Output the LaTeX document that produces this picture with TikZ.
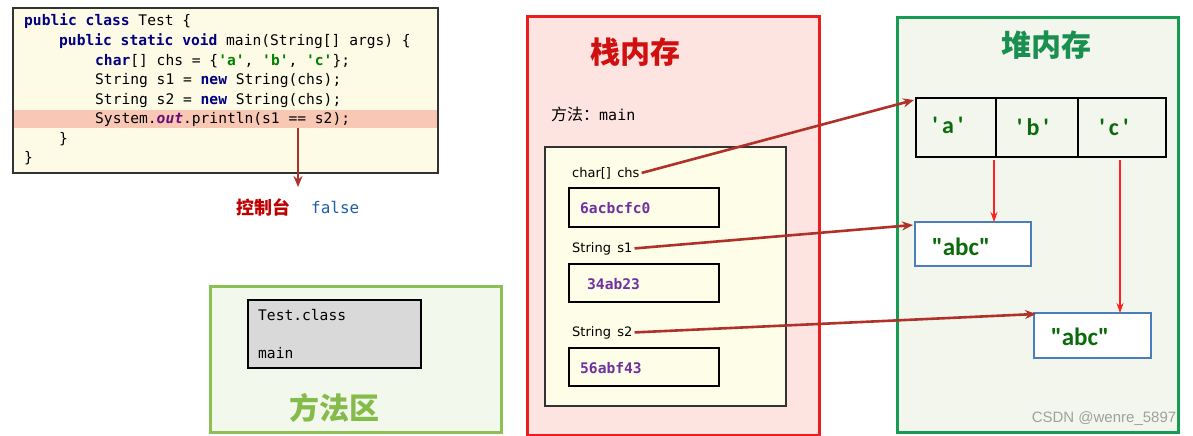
\documentclass[tikz,border=0pt]{standalone}
\usepackage{fontspec}
\setmainfont{DejaVu Sans}
\setsansfont{DejaVu Sans}
\setmonofont{DejaVu Sans Mono}
\newfontfamily\cjk{Noto Sans CJK SC}
\newfontfamily\carl{Carlito}
\newfontfamily\libsans{Liberation Sans}
\usetikzlibrary{arrows.meta}
\definecolor{codebg}{HTML}{FDFBE6}
\definecolor{hlpink}{HTML}{F9C8B4}
\definecolor{kwnavy}{HTML}{000080}
\definecolor{strgreen}{HTML}{008000}
\definecolor{fldpurple}{HTML}{660E7A}
\definecolor{darrow}{HTML}{B0302A}
\definecolor{brightred}{HTML}{FF2020}
\definecolor{ctlred}{HTML}{C00000}
\definecolor{falseblue}{HTML}{1F5FA8}
\definecolor{mgreen}{HTML}{8BC153}
\definecolor{mbg}{HTML}{F3F8EC}
\definecolor{mtitle}{HTML}{85BB4A}
\definecolor{graybox}{HTML}{D9D9D9}
\definecolor{sred}{HTML}{EE1C1C}
\definecolor{sbg}{HTML}{FDE4E1}
\definecolor{stitle}{HTML}{D01010}
\definecolor{innerbg}{HTML}{FEFDE8}
\definecolor{addr}{HTML}{7030A0}
\definecolor{hgreen}{HTML}{169B53}
\definecolor{hbg}{HTML}{F3F6EC}
\definecolor{htitle}{HTML}{1A9050}
\definecolor{valgreen}{HTML}{0B6B0B}
\definecolor{strblue}{HTML}{4A7EBB}
\definecolor{wmgray}{HTML}{A0A0A0}
\newcommand\jkw[1]{\textcolor{kwnavy}{\bfseries #1}}
\newcommand\jstr[1]{\textcolor{strgreen}{\bfseries #1}}
\newcommand\jfld[1]{\textcolor{fldpurple}{\bfseries\itshape #1}}
\newcommand\sq{\symbol{39}}
\newcommand\dq{\symbol{34}}
\begin{document}
\begin{tikzpicture}[x=1pt,y=-1pt,
  box/.style={rectangle,anchor=north west,inner sep=0pt,outer sep=0pt},
  code/.style={anchor=base west,inner sep=0pt,font=\ttfamily\fontsize{14.6}{16}\selectfont},
  mono/.style={anchor=base west,inner sep=0pt,font=\ttfamily\fontsize{14.6}{16}\selectfont},
  lbl/.style={anchor=base west,inner sep=2pt,font=\fontsize{13}{15}\selectfont},
  cellbox/.style={box,draw=black,line width=1.8pt,minimum height=59pt},
  addrbox/.style={box,draw=black,line width=1.8pt,fill=innerbg,minimum width=150pt,minimum height=39pt},
  addrtxt/.style={anchor=base west,inner sep=0pt,text=addr,font=\ttfamily\bfseries\fontsize{14.6}{16}\selectfont},
  strbox/.style={box,draw=strblue,line width=2.2pt,fill=white,minimum width=116pt,minimum height=44pt},
  strtxt/.style={inner sep=0pt,text=valgreen,font=\carl\bfseries\fontsize{25}{27}\selectfont},
  chtxt/.style={inner sep=0pt,text=valgreen,font=\carl\bfseries\fontsize{24}{26}\selectfont},
  title/.style={inner sep=0pt,font=\cjk\bfseries\fontsize{30}{32}\selectfont},
  darr/.style={draw=darrow,line width=2.6pt,-{Stealth[length=11pt,width=9pt]}},
  rarr/.style={draw=brightred,line width=1.8pt,-{Stealth[length=10pt,width=7pt]}}]
\useasboundingbox (0,0) rectangle (1193,436);

% ---------- code box ----------
\node[box,draw=black!80,line width=1.5pt,fill=codebg,minimum width=425pt,minimum height=165pt] (codebox) at (13,8) {};
\node[box,fill=hlpink,minimum width=423pt,minimum height=18pt] (hl) at (14,110) {};
\node[code] (l1) at (24,26) {\jkw{public} \jkw{class} Test \{};
\node[code] (l2) at (59,45.5) {\jkw{public} \jkw{static} \jkw{void} main(String[] args) \{};
\node[code] (l3) at (95,65) {\jkw{char}[] chs = \{\jstr{\sq a\sq}, \jstr{\sq b\sq}, \jstr{\sq c\sq}\};};
\node[code] (l4) at (95,84.5) {String s1 = \jkw{new} String(chs);};
\node[code] (l5) at (95,104) {String s2 = \jkw{new} String(chs);};
\node[code] (l6) at (95,123.5) {System.\jfld{out}.println(s1 == s2);};
\node[code] (l7) at (59,143) {\}};
\node[code] (l8) at (24,162.5) {\}};
\coordinate (outend) at (298,187);
\draw[darr,line width=2.4pt] (hl.south -| outend) -- (outend);
\node[anchor=base west,inner sep=0pt,text=ctlred,font=\cjk\bfseries\fontsize{18}{20}\selectfont] (ctl) at (236,214) {控制台};
\node[anchor=base west,inner sep=0pt,text=falseblue,font=\ttfamily\fontsize{16}{18}\selectfont] (false) at (311,213) {false};

% ---------- method area ----------
\node[box,draw=mgreen,line width=3pt,fill=mbg,minimum width=291pt,minimum height=146pt] (marea) at (210,286) {};
\node[box,draw=black,line width=1.5pt,fill=graybox,minimum width=173pt,minimum height=68pt] (cls) at (248,300) {};
\node[mono] (tcls) at (258,320) {Test.class};
\node[mono] (tmain) at (258,358) {main};
\node[title,text=mtitle] (mtitle) at (334.5,408) {方法区};

% ---------- stack ----------
\node[box,draw=sred,line width=3pt,fill=sbg,minimum width=292pt,minimum height=418pt] (stack) at (527,17) {};
\node[title,text=stitle] (stitle) at (635,52) {栈内存};
\node[anchor=base west,inner sep=0pt] (meth) at (551,120) {{\cjk\fontsize{16}{18}\selectfont 方法：}{\ttfamily\fontsize{15}{17}\selectfont main}};
\node[box,draw=black!80,line width=1.3pt,fill=innerbg,minimum width=241pt,minimum height=259pt] (frame) at (545,147) {};
\node[lbl] (chs) at (570,177) {char[]\, chs};
\node[addrbox] (b1) at (569,188) {};
\node[addrtxt] (a1) at (580,213) {6acbcfc0};
\node[lbl] (s1) at (570,252) {String\, s1};
\node[addrbox,minimum height=38pt] (b2) at (569,264) {};
\node[addrtxt] (a2) at (587,289) {34ab23};
\node[lbl] (s2) at (570,336) {String\, s2};
\node[addrbox,minimum height=38pt] (b3) at (569,348) {};
\node[addrtxt] (a3) at (580,373) {56abf43};

% ---------- heap ----------
\node[box,draw=hgreen,line width=3pt,fill=hbg,minimum width=281pt,minimum height=414pt] (heap) at (897,18) {};
\node[title,text=htitle] (htitle) at (1046,45) {堆内存};
\node[cellbox,minimum width=80pt] (ca) at (916,98) {};
\node[cellbox,minimum width=82pt] (cb) at (996,98) {};
\node[cellbox,minimum width=88pt] (cc) at (1078,98) {};
\node[chtxt] (ta) at (948,125) {\sq\,a\,\sq};
\node[chtxt] (tb) at (1033,127) {\sq\,b\,\sq};
\node[chtxt] (tc) at (1114,127) {\sq\,c\,\sq};
\node[strbox] (abc1) at (915,222) {};
\node[strtxt] (v1) at (961,247) {\dq abc\dq};
\node[strbox,minimum width=117pt,minimum height=45pt] (abc2) at (1034,313) {};
\node[strtxt] (v2) at (1080,337) {\dq abc\dq};

% ---------- connectors ----------
\draw[rarr] ([xshift=-2pt,yshift=-3pt]cb.south west) -- ([xshift=-2pt]cb.south west |- abc1.north);
\draw[rarr] ([xshift=-2pt,yshift=-3pt]cc.south) -- ([xshift=-2pt]cc.south |- abc2.north);
\draw[darr] (chs.east) -- ([xshift=-2pt,yshift=-2pt]ca.north west);
\draw[darr] (s1.east) -- ([xshift=-2pt,yshift=-3pt]abc1.north west);
\draw[darr] (s2.east) -- ([xshift=2pt,yshift=-1pt]abc2.north west);

\node[inner sep=0pt,text=wmgray,font=\libsans\fontsize{15}{17}\selectfont] (wm) at (1104,419) {CSDN @wenre\_5897};
\end{tikzpicture}
\end{document}
